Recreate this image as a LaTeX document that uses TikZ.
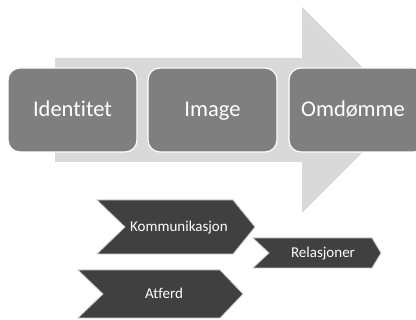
\documentclass[tikz,border=0pt]{standalone}
\usepackage{fontspec}
\setmainfont[RawFeature={-liga}]{Carlito}
\definecolor{arrowgray}{HTML}{D9D9D9}
\definecolor{boxgray}{HTML}{7F7F7F}
\definecolor{chevdark}{HTML}{404040}
\definecolor{edgegray}{HTML}{C8C8C8}
\begin{document}
\begin{tikzpicture}[x=1pt,y=-1pt,
  bigbox/.style={draw=white,line width=1.2pt,fill=boxgray,rounded corners=12pt},
  boxtext/.style={text=white,font=\fontsize{22.5}{26}\selectfont,inner sep=0pt,anchor=base},
  chev/.style={draw=edgegray,line width=0.8pt,fill=chevdark},
  chevtext/.style={text=white,font=\fontsize{15}{18}\selectfont,inner sep=0pt,anchor=base}]
\useasboundingbox (0,0) rectangle (416,320);
% big background arrow
\fill[arrowgray] (55,58) -- (302,58) -- (302,7) -- (405,110) -- (302,213) -- (302,162) -- (55,162) -- cycle;
% boxes
\draw[bigbox] (8,68) rectangle (137,152);
\draw[bigbox] (148,68) rectangle (277,152);
\draw[bigbox] (289,68) rectangle (426,152);
\node[boxtext] (identitet) at (72.5,117) {Identitet};
\node[boxtext] (image) at (212.5,117) {Image};
\node[boxtext] (omdomme) at (353,117) {Omdømme};
% chevrons
\draw[chev] (97,200) -- (233,200) -- (255,227) -- (233,254) -- (97,254) -- (125,227) -- cycle;
\node[chevtext] (komm) at (179,232) {Kommunikasjon};
\draw[chev] (253,238) -- (372,238) -- (381,253) -- (372,268) -- (253,268) -- (269,253) -- cycle;
\node[chevtext] (rel) at (323,258) {Relasjoner};
\draw[chev] (78,270) -- (220,270) -- (243,294) -- (220,318) -- (78,318) -- (103,294) -- cycle;
\node[chevtext] (atferd) at (164,299) {Atferd};
\end{tikzpicture}
\end{document}
